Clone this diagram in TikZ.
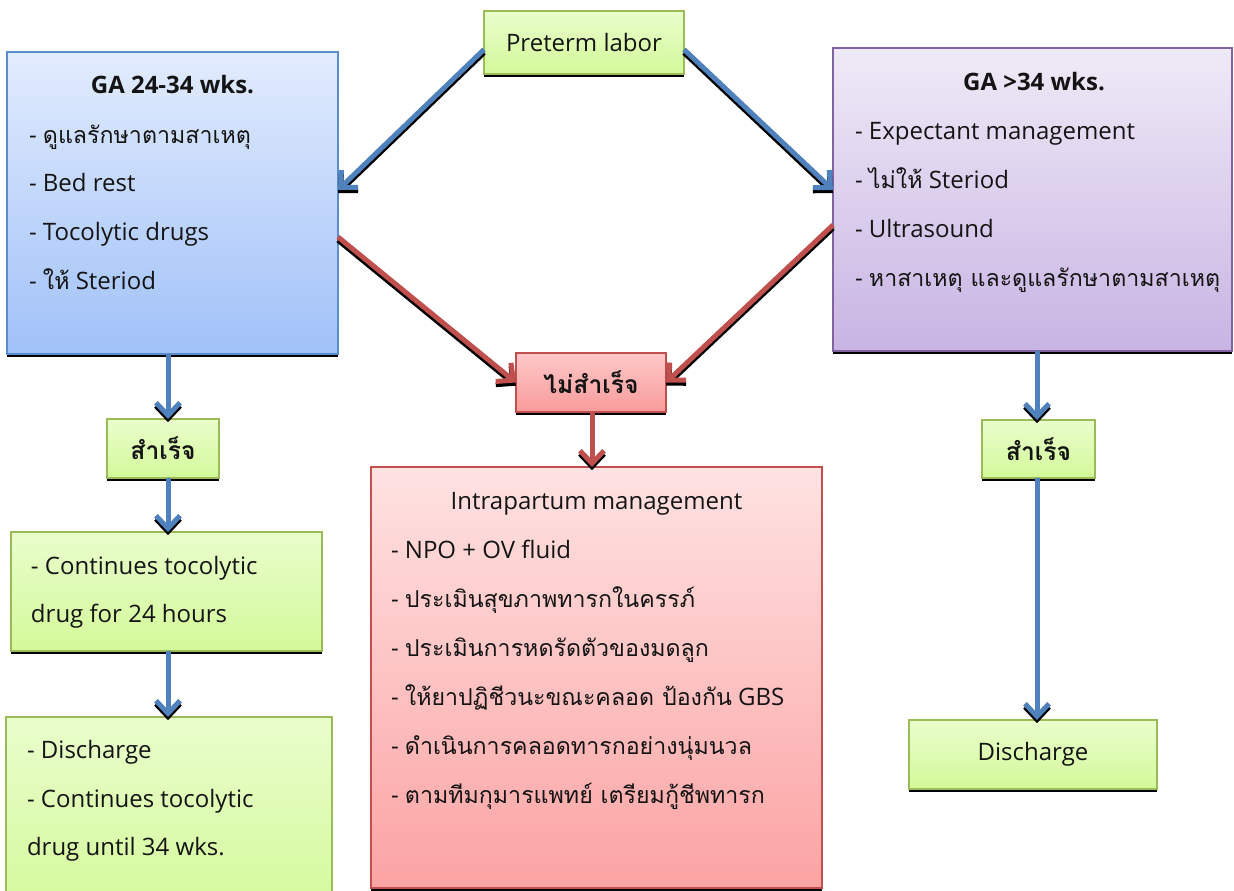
\documentclass[tikz,border=0pt]{standalone}
\usepackage{fontspec}
\setmainfont{Open Sans}
\newfontfamily\thai[Script=Thai]{Loma}
\usetikzlibrary{arrows.meta,shadows,calc}
\definecolor{gbord}{HTML}{9BBB59}
\definecolor{gtop}{HTML}{E9FDCC}
\definecolor{gbot}{HTML}{D3F999}
\definecolor{bbord}{HTML}{5B8CCB}
\definecolor{btop}{HTML}{E2ECFD}
\definecolor{bbot}{HTML}{A0C1F8}
\definecolor{pbord}{HTML}{8064A2}
\definecolor{ptop}{HTML}{EFEAF7}
\definecolor{pbot}{HTML}{C8B4E3}
\definecolor{rbord}{HTML}{C0504D}
\definecolor{rtop}{HTML}{FFE2E2}
\definecolor{rbot}{HTML}{FBA3A3}
\definecolor{ftop}{HTML}{FFC8C8}
\definecolor{fbot}{HTML}{F89B9B}
\definecolor{ablue}{HTML}{4F81BD}
\definecolor{ared}{HTML}{C0504D}
\definecolor{ink}{HTML}{141414}
\newcommand{\thx}[1]{{\fontsize{17.4}{20}\selectfont\thai #1}}
\newcommand{\thb}[1]{{\fontsize{18.5}{20}\selectfont\thai\bfseries #1}}
\newcommand{\connect}[3]{%
  \draw[connshadow] #2 -- #3;
  \draw[conn=#1] #2 -- #3;}
\begin{document}
\begin{tikzpicture}[x=0.75pt,y=-0.75pt,
  every node/.style={inner sep=0pt, outer sep=0pt, text=ink},
  box/.style={draw, line width=1.5pt, anchor=north west, rectangle,
    general shadow={fill=black, shadow yshift=-2.6pt}},
  greenbox/.style={box, draw=gbord, top color=gtop, bottom color=gbot},
  bluebox/.style={box, draw=bbord, top color=btop, bottom color=bbot},
  purplebox/.style={box, draw=pbord, top color=ptop, bottom color=pbot},
  redbox/.style={box, draw=rbord, top color=rtop, bottom color=rbot},
  failbox/.style={box, draw=rbord, top color=ftop, bottom color=fbot},
  lfont/.style={font=\fontsize{18}{20}\selectfont},
  bfont/.style={font=\fontsize{18}{20}\selectfont\bfseries},
  txt/.style={anchor=base west, lfont},
  ttl/.style={anchor=base, bfont},
  arr/.style={line width=3.75pt, line join=miter,
    -{Straight Barb[length=9.5pt,width=18pt]}},
  conn/.style={arr, draw=#1},
  connshadow/.style={arr, draw=black, transform canvas={yshift=-2.4pt}}
]
\clip (0,0) rectangle (1234,890);
\fill[white] (0,0) rectangle (1234,890);

% boxes
\node[greenbox, minimum width=150pt, minimum height=47.25pt, lfont] (pl) at (484,11) {Preterm labor};
\node[bluebox, minimum width=248.25pt, minimum height=226.5pt] (ga1) at (7,52) {};
\node[purplebox, minimum width=299.25pt, minimum height=227.25pt] (ga2) at (833,48) {};
\node[failbox, minimum width=112.5pt, minimum height=44.25pt] (fl) at (516,353) {\thb{ไม่สำเร็จ}};
\node[redbox, minimum width=338.25pt, minimum height=315.75pt] (ip) at (371,467) {};
\node[greenbox, minimum width=84pt, minimum height=44.25pt] (sl) at (107,419) {\thb{สำเร็จ}};
\node[greenbox, minimum width=233.25pt, minimum height=89.25pt] (ct) at (11,532) {};
\node[greenbox, minimum width=244.5pt, minimum height=150pt] (dl) at (6,717) {};
\node[greenbox, minimum width=84.75pt, minimum height=43.5pt] (sr) at (982,420) {\thb{สำเร็จ}};
\node[greenbox, minimum width=186pt, minimum height=51.75pt, lfont] (dr) at (909,720) {Discharge};

% texts: GA 24-34
\node[ttl] (ga1t) at (172.5,93) {GA 24-34 wks.};
\node[txt] (ga1a) at (29,143) {- \thx{ดูแลรักษาตามสาเหตุ}};
\node[txt] (ga1b) at (29,191) {- Bed rest};
\node[txt] (ga1c) at (29,240) {- Tocolytic drugs};
\node[txt] (ga1d) at (29,289) {- \thx{ให้} Steriod};
% texts: GA >34
\node[ttl] (ga2t) at (1034,90) {GA >34 wks.};
\node[txt] (ga2a) at (855,139) {- Expectant management};
\node[txt] (ga2b) at (855,188) {- \thx{ไม่ให้} Steriod};
\node[txt] (ga2c) at (855,237) {- Ultrasound};
\node[txt] (ga2d) at (855,286) {- \thx{หาสาเหตุ และดูแลรักษาตามสาเหตุ}};
% texts: intrapartum
\node[anchor=base, lfont] (ipt) at (596.5,509) {Intrapartum management};
\node[txt] (ipa) at (391,558) {- NPO + OV fluid};
\node[txt] (ipb) at (391,607) {- \thx{ประเมินสุขภาพทารกในครรภ์}};
\node[txt] (ipc) at (391,656) {- \thx{ประเมินการหดรัดตัวของมดลูก}};
\node[txt] (ipd) at (391,705) {- \thx{ให้ยาปฏิชีวนะขณะคลอด ป้องกัน} GBS};
\node[txt] (ipe) at (391,754) {- \thx{ดำเนินการคลอดทารกอย่างนุ่มนวล}};
\node[txt] (ipf) at (391,803) {- \thx{ตามทีมกุมารแพทย์ เตรียมกู้ชีพทารก}};
% texts: continue
\node[txt] (cta) at (31,574) {- Continues tocolytic};
\node[txt] (ctb) at (31,622) {drug for 24 hours};
% texts: discharge left
\node[txt] (dla) at (27,758) {- Discharge};
\node[txt] (dlb) at (27,807) {- Continues tocolytic};
\node[txt] (dlc) at (27,855) {drug until 34 wks.};

% connectors
\coordinate (lx) at (168,0);
\connect{ablue}{([yshift=-5.25pt]pl.west)}{(ga1.east |- 0,190)}
\connect{ablue}{([yshift=-5.25pt]pl.east)}{(ga2.west |- 0,190)}
\connect{ared}{(ga1.east |- 0,237)}{(fl.west)}
\connect{ared}{(ga2.west |- 0,225)}{(fl.east)}
\connect{ared}{(fl.south -| 592,0)}{(ip.north -| 592,0)}
\connect{ablue}{(ga1.south -| lx)}{(sl.north -| lx)}
\connect{ablue}{(sl.south -| lx)}{(ct.north -| lx)}
\connect{ablue}{(ct.south -| lx)}{(dl.north -| lx)}
\connect{ablue}{(ga2.south -| 1037,0)}{(sr.north -| 1037,0)}
\connect{ablue}{(sr.south -| 1037,0)}{(dr.north -| 1037,0)}
\end{tikzpicture}
\end{document}
